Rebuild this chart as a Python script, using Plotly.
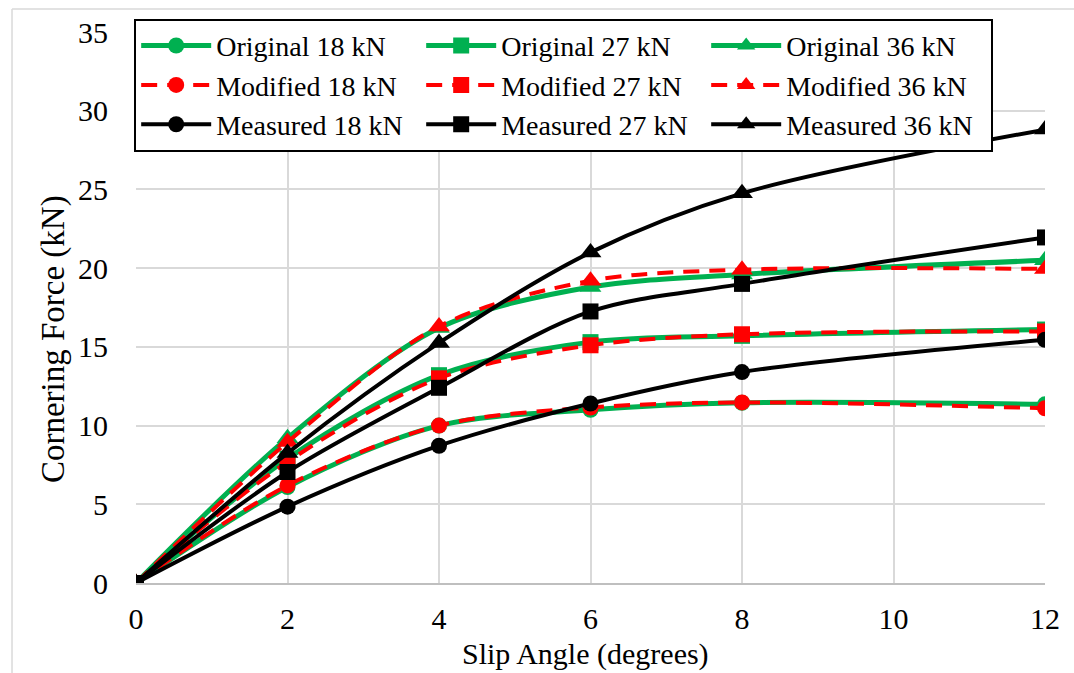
import plotly.graph_objects as go

# Slip angle (degrees)
slip_angle = [0, 2, 4, 6, 8, 12]

# Cornering force (kN) per load case
original_18 = [0, 6.1, 10.0, 11.0, 11.45, 11.35]
original_27 = [0, 7.9, 13.2, 15.3, 15.7, 16.1]
original_36 = [0, 9.2, 16.2, 18.8, 19.6, 20.5]
modified_18 = [0, 6.2, 10.0, 11.15, 11.47, 11.1]
modified_27 = [0, 7.7, 13.0, 15.1, 15.8, 15.98]
modified_36 = [0, 8.95, 16.3, 19.2, 19.9, 19.95]
measured_18 = [0, 4.85, 8.72, 11.4, 13.4, 15.45]
measured_27 = [0, 7.05, 12.4, 17.25, 19.0, 21.95]
measured_36 = [0, 8.25, 15.25, 21.0, 24.75, 28.8]

x_ticks = [0, 2, 4, 6, 8, 10, 12]
y_ticks = [0, 5, 10, 15, 20, 25, 30, 35]

GREEN = "#00B050"
RED = "#FF0000"
BLACK = "#000000"
FONT = "Liberation Serif"

symbols = {"18": "circle", "27": "square", "36": "triangle-up"}
sizes = {"18": 16, "27": 16, "36": 19}

series = [
    ("Original", "18", original_18), ("Original", "27", original_27), ("Original", "36", original_36),
    ("Modified", "18", modified_18), ("Modified", "27", modified_27), ("Modified", "36", modified_36),
    ("Measured", "18", measured_18), ("Measured", "27", measured_27), ("Measured", "36", measured_36),
]

styles = {
    "Original": dict(color=GREEN, width=5, dash="solid"),
    "Modified": dict(color=RED, width=4, dash="16px,10px"),
    "Measured": dict(color=BLACK, width=4, dash="solid"),
}

fig = go.Figure()
for kind, load, values in series:
    st = styles[kind]
    fig.add_trace(go.Scatter(
        x=slip_angle, y=values,
        mode="lines+markers",
        name=f"{kind} {load} kN",
        line=dict(color=st["color"], width=st["width"], dash=st["dash"], shape="spline", smoothing=0.9),
        marker=dict(symbol=symbols[load], size=sizes[load], color=st["color"], line=dict(width=0)),
    ))

axis_common = dict(
    showgrid=True, gridcolor="#d9d9d9", gridwidth=1.5,
    zeroline=False, ticks="",
    tickfont=dict(family=FONT, size=30, color="#000000"),
)

fig.update_xaxes(
    range=[0, 12], tickvals=x_ticks, ticktext=[str(v) for v in x_ticks],
    showline=True, linecolor="#bfbfbf", linewidth=1.5,
    ticklabelstandoff=8, **axis_common,
)
fig.update_yaxes(
    range=[0, 35], tickvals=y_ticks, ticktext=[str(v) for v in y_ticks],
    showline=False, ticklabelstandoff=27, **axis_common,
)

fig.update_layout(
    width=1074, height=673,
    margin=dict(l=136, r=29, t=32, b=90),
    paper_bgcolor="white", plot_bgcolor="white",
    font=dict(family=FONT, color="#000000"),
    legend=dict(
        orientation="h", x=-0.002, y=1.024, xanchor="left", yanchor="top",
        entrywidth=200, entrywidthmode="pixels",
        itemwidth=70,
        bgcolor="white", bordercolor="#000000", borderwidth=2,
        font=dict(family=FONT, size=28, color="#000000"),
        tracegroupgap=0,
    ),
    annotations=[
        dict(text="Slip Angle (degrees)", xref="paper", yref="paper",
             x=0.495, y=-0.129, xanchor="center", yanchor="middle", showarrow=False,
             font=dict(family=FONT, size=30, color="#000000")),
        dict(text="Cornering Force (kN)", xref="paper", yref="paper",
             x=-0.09, y=0.443, xanchor="center", yanchor="middle", textangle=-90, showarrow=False,
             font=dict(family=FONT, size=33, color="#000000")),
    ],
    shapes=[
        dict(type="line", xref="paper", yref="paper", x0=-0.1364, x1=-0.1364, y0=-0.2, y1=1.0417,
             line=dict(color="#d9d9d9", width=1.5)),
        dict(type="line", xref="paper", yref="paper", x0=-0.1364, x1=1.05, y0=1.0417, y1=1.0417,
             line=dict(color="#d9d9d9", width=1.5)),
    ],
)

fig.write_html("out.html")
